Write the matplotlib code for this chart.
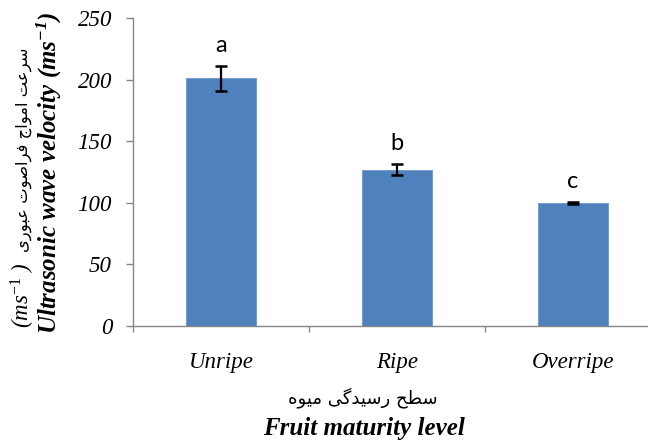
import matplotlib
matplotlib.use("Agg")
import matplotlib.pyplot as plt

# ---- data -------------------------------------------------------------
categories = ["Unripe", "Ripe", "Overripe"]
velocity = [201, 127, 100]          # ultrasonic wave velocity (m/s)
velocity_err = [10, 4.7, 1.0]       # standard error
groups = ["a", "b", "c"]            # mean-separation letters
y_ticks = [0, 50, 100, 150, 200, 250]

xlabel_fa = "سطح رسیدگی میوه"
ylabel_fa = "سرعت امواج فراصوت عبوری"
xlabel_en = "Fruit maturity level"
ylabel_en = r"Ultrasonic wave velocity (ms$^{\mathbf{-1}}$)"

# ---- minimal Persian shaping (presentation forms, visual order) --------
FORMS = {
    "ا": ("\uFE8D", "\uFE8E", None, None),
    "ب": ("\uFE8F", "\uFE90", "\uFE91", "\uFE92"),
    "ت": ("\uFE95", "\uFE96", "\uFE97", "\uFE98"),
    "ج": ("\uFE9D", "\uFE9E", "\uFE9F", "\uFEA0"),
    "ح": ("\uFEA1", "\uFEA2", "\uFEA3", "\uFEA4"),
    "د": ("\uFEA9", "\uFEAA", None, None),
    "ر": ("\uFEAD", "\uFEAE", None, None),
    "س": ("\uFEB1", "\uFEB2", "\uFEB3", "\uFEB4"),
    "ص": ("\uFEB9", "\uFEBA", "\uFEBB", "\uFEBC"),
    "ط": ("\uFEC1", "\uFEC2", "\uFEC3", "\uFEC4"),
    "ع": ("\uFEC9", "\uFECA", "\uFECB", "\uFECC"),
    "ف": ("\uFED1", "\uFED2", "\uFED3", "\uFED4"),
    "م": ("\uFEE1", "\uFEE2", "\uFEE3", "\uFEE4"),
    "ه": ("\uFEE9", "\uFEEA", "\uFEEB", "\uFEEC"),
    "و": ("\uFEED", "\uFEEE", None, None),
    "\u06AF": ("\uFB92", "\uFB93", "\uFB94", "\uFB95"),
    "\u06CC": ("\uFBFC", "\uFBFD", "\uFBFE", "\uFBFF"),
}


def shape_rtl(text):
    text = text.replace("\u064A", "\u06CC").replace("\u0643", "\u06A9")
    out = []
    for i, ch in enumerate(text):
        if ch not in FORMS:
            out.append(ch)
            continue
        iso, fin, ini, med = FORMS[ch]
        prev = text[i - 1] if i > 0 else ""
        nxt = text[i + 1] if i + 1 < len(text) else ""
        joins_prev = prev in FORMS and FORMS[prev][2] is not None
        joins_next = ini is not None and nxt in FORMS
        if joins_prev and joins_next:
            out.append(med)
        elif joins_prev:
            out.append(fin)
        elif joins_next:
            out.append(ini)
        else:
            out.append(iso)
    return "".join(reversed(out))


# ---- style --------------------------------------------------------------
plt.rcParams["mathtext.fontset"] = "custom"
plt.rcParams["mathtext.rm"] = "Liberation Serif"
plt.rcParams["mathtext.it"] = "Liberation Serif:italic"
plt.rcParams["mathtext.bf"] = "Liberation Serif:italic:bold"

SERIF = "Liberation Serif"
AXIS_GRAY = "#868686"
BAR_BLUE = "#4F81BD"

fig = plt.figure(figsize=(6.48, 4.45), dpi=100)
ax = fig.add_axes([0.2052, 0.2674, 0.8148, 0.6921])

x = list(range(len(categories)))
ax.bar(x, velocity, width=0.4, color=BAR_BLUE, edgecolor="#6F97CB",
       linewidth=0.6, zorder=2)
ax.errorbar(x, velocity, yerr=velocity_err, fmt="none", ecolor="black",
            elinewidth=1.6, capsize=4.2, capthick=1.8, zorder=3)

for xi, v, e, g in zip(x, velocity, velocity_err, groups):
    ax.annotate(g, xy=(xi, v + e), xytext=(0, 10), textcoords="offset points",
                ha="center", va="baseline", fontsize=17, family="Lato")

ax.set_xlim(-0.5, 2.5)
ax.set_ylim(0, 250)

ax.set_yticks(y_ticks)
ax.set_yticklabels([str(t) for t in y_ticks], family=SERIF, style="italic",
                   fontsize=16.5)
ax.tick_params(axis="y", direction="out", length=5, width=1.0,
               color=AXIS_GRAY, pad=10)

# category boundaries as major ticks, category names on minor ticks
ax.set_xticks([-0.5, 0.5, 1.5, 2.5])
ax.set_xticklabels([])
ax.set_xticks(x, minor=True)
ax.set_xticklabels(categories, minor=True, family=SERIF, style="italic",
                   fontsize=16.5)
ax.tick_params(axis="x", which="major", direction="out", length=4,
               width=1.0, color=AXIS_GRAY)
ax.tick_params(axis="x", which="minor", length=0, pad=19)

for side in ("top", "right"):
    ax.spines[side].set_visible(False)
for side in ("left", "bottom"):
    ax.spines[side].set_color(AXIS_GRAY)
    ax.spines[side].set_linewidth(1.0)

# axis titles: Persian line above English line
fig.text(363 / 648, 1 - 398 / 445, shape_rtl(xlabel_fa), ha="center",
         va="center", fontsize=13, family=["DejaVu Sans"])
fig.text(364 / 648, 1 - 429 / 445, xlabel_en, ha="center", va="center",
         fontsize=18, family=SERIF, style="italic", weight="bold")

fig.text(49 / 648, 1 - 173 / 445, ylabel_en, rotation=90, ha="center",
         va="center", fontsize=18, family=SERIF, style="italic",
         weight="bold")
fig.text(23 / 648, 1 - 263 / 445, r"(ms$^{\mathit{-1}}$ )", rotation=90,
         ha="center", va="top", fontsize=16.5, family=SERIF, style="italic")
fig.text(24 / 648, 1 - 252 / 445, shape_rtl(ylabel_fa), rotation=90,
         ha="center", va="bottom", fontsize=11.8, family=["DejaVu Sans"])

fig.savefig("out.png", dpi=100)
